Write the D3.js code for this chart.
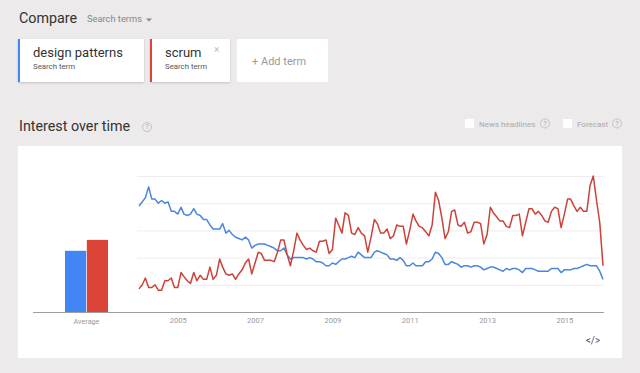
<!DOCTYPE html>
<html>
<head>
<meta charset="utf-8">
<script src="https://cdn.jsdelivr.net/npm/d3@7"></script>
<style>
  body { margin: 0; background: #eceaea; font-family: Roboto, "Noto Sans", sans-serif; }
  svg { display: block; }
</style>
</head>
<body>
<div id="chart"></div>
<script>
// search terms and their colours
const terms = ["design patterns", "scrum"];
const termColors = ["#4285f4", "#db4437"];
const lineColors = ["#4a86dc", "#cd4139"];

// average interest (bar chart on the left)
const averages = [45, 53];

// monthly interest, Jan 2004 .. Jan 2016
const designPatterns = [
  78, 81, 84, 92, 83, 83, 80, 82, 80, 81, 74, 74,
  72, 77, 72, 71, 72, 76, 72, 71, 68, 68, 64, 61,
  61, 61, 65, 58, 60, 57, 55, 54, 53, 55, 53, 47,
  49, 50, 50, 50, 49, 48, 47, 45, 45, 47, 42, 39,
  40, 40, 40, 40, 39, 40, 39, 37, 37, 36, 34, 34,
  36, 35, 37, 39, 39, 40, 41, 40, 44, 42, 40, 40,
  40, 44, 45, 44, 43, 42, 39, 39, 38, 40, 38, 34,
  34, 36, 34, 34, 34, 37, 37, 39, 44, 43, 40, 35,
  35, 37, 36, 35, 33, 34, 34, 33, 34, 34, 33, 31,
  32, 33, 33, 32, 31, 30, 32, 31, 32, 32, 31, 29,
  32, 32, 32, 31, 30, 30, 30, 30, 32, 32, 32, 29,
  31, 31, 31, 32, 32, 33, 34, 35, 34, 34, 34, 30,
  24
];
const scrum = [
  17, 20, 25, 18, 18, 20, 16, 16, 23, 23, 25, 18,
  18, 29, 26, 23, 21, 29, 23, 27, 24, 24, 33, 24,
  27, 39, 33, 28, 27, 28, 24, 28, 31, 36, 39, 28,
  36, 44, 43, 38, 38, 38, 37, 44, 53, 53, 42, 34,
  45, 58, 53, 49, 46, 47, 45, 44, 52, 52, 53, 43,
  46, 69, 64, 58, 73, 71, 58, 57, 62, 58, 56, 44,
  55, 68, 65, 58, 58, 61, 54, 56, 64, 63, 63, 50,
  60, 72, 67, 63, 62, 59, 56, 64, 88, 82, 69, 54,
  59, 74, 75, 64, 63, 66, 58, 59, 66, 66, 65, 50,
  57, 77, 73, 70, 67, 67, 63, 62, 71, 71, 72, 56,
  66, 76, 76, 72, 74, 71, 67, 66, 74, 77, 76, 62,
  72, 83, 83, 78, 74, 77, 74, 74, 93, 100, 82, 66,
  34
];

const yearTicks = [2005, 2007, 2009, 2011, 2013, 2015];
const gridValues = [20, 40, 60, 80, 100];

const width = 640, height = 373;

const svg = d3.select("#chart").append("svg")
    .attr("width", width)
    .attr("height", height);

// ---------- header ----------
svg.append("text")
    .attr("x", 19).attr("y", 23)
    .attr("font-size", 14.3).attr("fill", "#333")
    .text("Compare");
svg.append("text")
    .attr("x", 87).attr("y", 22)
    .attr("font-size", 9.3).attr("fill", "#888")
    .text("Search terms");
svg.append("path")
    .attr("d", "M146,18.5 L152,18.5 L149,21.5 Z")
    .attr("fill", "#888");

// term cards
const defs = svg.append("defs");
const shadow = defs.append("filter").attr("id", "shadow")
    .attr("x", "-5%").attr("y", "-5%").attr("width", "110%").attr("height", "120%");
shadow.append("feDropShadow")
    .attr("dx", 0).attr("dy", 1).attr("stdDeviation", 0.8)
    .attr("flood-color", "#000").attr("flood-opacity", 0.18);

const cards = [
  { x: 18, w: 126, label: terms[0], color: termColors[0] },
  { x: 150, w: 80, label: terms[1], color: termColors[1], close: true },
];
cards.forEach(c => {
  const g = svg.append("g");
  g.append("rect")
      .attr("x", c.x).attr("y", 39).attr("width", c.w).attr("height", 43)
      .attr("fill", "#fff").attr("filter", "url(#shadow)");
  g.append("rect")
      .attr("x", c.x).attr("y", 39).attr("width", 2).attr("height", 43)
      .attr("fill", c.color);
  g.append("text")
      .attr("x", c.x + 15).attr("y", 57)
      .attr("font-size", 13).attr("fill", "#333")
      .text(c.label);
  g.append("text")
      .attr("x", c.x + 15).attr("y", 69)
      .attr("font-size", 7.8).attr("fill", "#555")
      .text("Search term");
  if (c.close) {
    g.append("text")
        .attr("x", c.x + 64).attr("y", 53)
        .attr("font-size", 10).attr("fill", "#bbb")
        .text("×");
  }
});
svg.append("rect")
    .attr("x", 237).attr("y", 39).attr("width", 91).attr("height", 43)
    .attr("fill", "#fff");
svg.append("text")
    .attr("x", 252).attr("y", 65)
    .attr("font-size", 11).attr("fill", "#999")
    .text("+ Add term");

// ---------- section title ----------
svg.append("text")
    .attr("x", 19).attr("y", 131)
    .attr("font-size", 14.3).attr("fill", "#333")
    .text("Interest over time");

function helpIcon(cx, cy) {
  const g = svg.append("g");
  g.append("circle")
      .attr("cx", cx).attr("cy", cy).attr("r", 4.5)
      .attr("fill", "none").attr("stroke", "#c4c4c4");
  g.append("text")
      .attr("x", cx).attr("y", cy + 2.3)
      .attr("text-anchor", "middle")
      .attr("font-size", 6.5).attr("fill", "#aaa")
      .text("?");
}
helpIcon(147, 127);

function checkbox(x, label, helpX) {
  svg.append("rect")
      .attr("x", x).attr("y", 119).attr("width", 9).attr("height", 9)
      .attr("fill", "#fff");
  svg.append("text")
      .attr("x", x + 14).attr("y", 126.5)
      .attr("font-size", 8).attr("fill", "#aaa")
      .text(label);
  helpIcon(helpX, 123.5);
}
checkbox(465, "News headlines", 545);
checkbox(563, "Forecast", 617);

// ---------- chart panel ----------
svg.append("rect")
    .attr("x", 18).attr("y", 146).attr("width", 604).attr("height", 212)
    .attr("fill", "#fff");

const months = designPatterns.map((d, i) => new Date(2004, i, 1));

const x = d3.scaleTime()
    .domain([new Date(2004, 0, 1), new Date(2016, 0, 1)])
    .range([139, 603]);

const y = d3.scaleLinear()
    .domain([0, 100])
    .range([312, 176]);

// gridlines
svg.append("g")
    .attr("class", "gridlines")
    .attr("transform", "translate(137, 0)")
    .call(d3.axisLeft(y).tickValues(gridValues).tickFormat("").tickSize(-466))
    .call(g => g.select(".domain").remove())
    .call(g => g.selectAll("line").attr("stroke", "#ededed"));

// average bars
const xBar = d3.scaleBand()
    .domain(terms)
    .range([65, 108])
    .paddingInner(0.03);

svg.append("g").selectAll("rect")
    .data(terms)
    .join("rect")
    .attr("x", d => xBar(d))
    .attr("width", xBar.bandwidth())
    .attr("y", (d, i) => y(averages[i]))
    .attr("height", (d, i) => y(0) - y(averages[i]))
    .attr("fill", (d, i) => termColors[i]);

// x axis labels
svg.append("g")
    .attr("class", "x-axis")
    .attr("transform", "translate(0, 312)")
    .call(d3.axisBottom(x)
        .tickValues(yearTicks.map(yr => new Date(yr, 0, 1)))
        .tickFormat(d3.timeFormat("%Y"))
        .tickSize(0)
        .tickPadding(6))
    .call(g => g.select(".domain").remove())
    .call(g => g.selectAll("text")
        .attr("font-family", "Roboto, sans-serif")
        .attr("font-size", 7.5)
        .attr("fill", "#999"));

svg.append("line")
    .attr("x1", 33).attr("x2", 604)
    .attr("y1", 312.5).attr("y2", 312.5)
    .attr("stroke", "#9e9e9e");

svg.append("text")
    .attr("x", xBar.range()[0] + (xBar.range()[1] - xBar.range()[0]) / 2)
    .attr("y", 324)
    .attr("text-anchor", "middle")
    .attr("font-size", 7.2).attr("fill", "#999")
    .text("Average");

// lines
const line = d3.line()
    .x((d, i) => x(months[i]))
    .y(d => y(d));

[designPatterns, scrum].forEach((series, k) => {
  svg.append("path")
      .datum(series)
      .attr("d", line)
      .attr("fill", "none")
      .attr("stroke", lineColors[k])
      .attr("stroke-width", 1.5)
      .attr("stroke-linejoin", "round");
});

// embed icon
svg.append("text")
    .attr("x", 593).attr("y", 344)
    .attr("text-anchor", "middle")
    .attr("font-size", 10).attr("fill", "#555")
    .text("</>");
</script>
</body>
</html>
